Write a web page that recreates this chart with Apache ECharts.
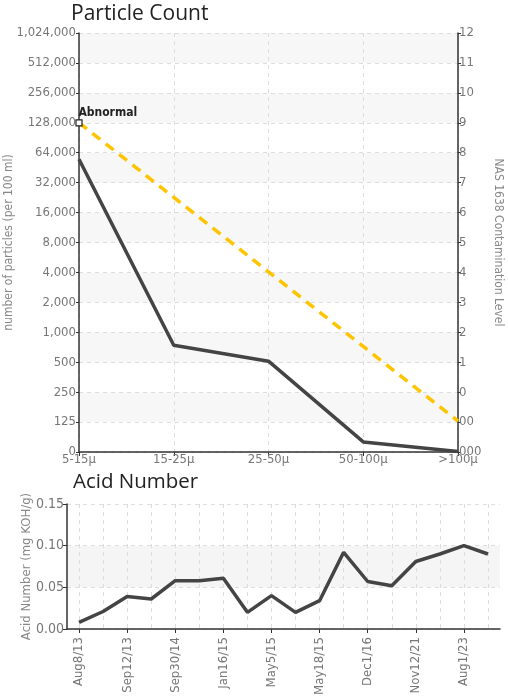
<!DOCTYPE html>
<html>
<head>
<meta charset="utf-8">
<script src="https://cdn.jsdelivr.net/npm/echarts@6/dist/echarts.min.js"></script>
<style>
html,body{margin:0;padding:0;background:#fff;}
#chart{width:508px;height:697px;}
</style>
</head>
<body>
<div id="chart"></div>
<script>
// ---- data ----
var sizeClasses = ['5-15\u03bc', '15-25\u03bc', '25-50\u03bc', '50-100\u03bc', '>100\u03bc'];
var particleCounts = [55000, 740, 512, 42, 2];
var abnormalLimit = [128000, 22800, 4050, 720, 128];
var countTicks = ['0', '125', '250', '500', '1,000', '2,000', '4,000', '8,000', '16,000', '32,000', '64,000', '128,000', '256,000', '512,000', '1,024,000'];
var nasTicks = ['000', '00', '0', '1', '2', '3', '4', '5', '6', '7', '8', '9', '10', '11', '12'];

var sampleDates = ['Aug8/13', '', 'Sep12/13', '', 'Sep30/14', '', 'Jan16/15', '', 'May5/15', '', 'May18/15', '', 'Dec1/16', '', 'Nov12/21', '', 'Aug1/23', ''];
var acidNumber = [0.008, 0.021, 0.039, 0.036, 0.058, 0.058, 0.061, 0.020, 0.040, 0.020, 0.034, 0.092, 0.057, 0.052, 0.081, 0.090, 0.100, 0.090];

// position on the doubling scale (0 -> 0, 125 -> 1, each step doubles)
function toPos(v) { return v < 125 ? v / 125 : 1 + Math.log(v / 125) / Math.LN2; }

var FONT = '"Liberation Sans Narrow", "DejaVu Sans Condensed", sans-serif';
var labelColor = '#777';
var axisColor = '#333';
var gridLine = { show: true, lineStyle: { color: '#ddd', type: [4, 4], width: 1 } };

var chart = echarts.init(document.getElementById('chart'));
chart.setOption({
  animation: false,
  backgroundColor: '#fff',
  title: [
    { text: 'Particle Count', left: 66, top: -1, textStyle: { fontFamily: '"Open Sans", sans-serif', fontSize: 21, fontWeight: 'normal', color: '#222' } },
    { text: 'Acid Number', left: 68, top: 467, textStyle: { fontFamily: '"Open Sans", sans-serif', fontSize: 20.5, fontWeight: 'normal', color: '#222' } }
  ],
  grid: [
    { left: 79, right: 50, top: 33, bottom: 245, containLabel: false, outerBoundsMode: 'none' },
    { left: 67, right: 8, top: 504, bottom: 68, containLabel: false, outerBoundsMode: 'none' }
  ],
  xAxis: [
    {
      gridIndex: 0, type: 'category', data: sizeClasses, boundaryGap: false,
      axisLine: { lineStyle: { color: axisColor, width: 1.5 } },
      axisTick: { show: true, length: 4, lineStyle: { color: axisColor } },
      axisLabel: { color: labelColor, fontFamily: FONT, fontSize: 13, margin: 1 },
      splitLine: gridLine
    },
    {
      gridIndex: 1, type: 'category', data: sampleDates, boundaryGap: true,
      axisLine: { lineStyle: { color: axisColor, width: 1.5 } },
      axisTick: { show: true, length: 4, interval: 1, alignWithLabel: true, lineStyle: { color: axisColor } },
      axisLabel: { color: labelColor, fontFamily: FONT, fontSize: 13, rotate: 90, interval: 1, margin: 8 },
      splitLine: { show: true, interval: 0, alignWithLabel: true, lineStyle: { color: '#ddd', type: [4, 4], width: 1 } }
    }
  ],
  yAxis: [
    {
      gridIndex: 0, type: 'value', min: 0, max: 14, interval: 1,
      name: 'number of particles (per 100 ml)', nameLocation: 'middle', nameGap: 64, nameRotate: 90, nameMoveOverlap: false,
      nameTextStyle: { color: '#888', fontFamily: FONT, fontSize: 12 },
      axisLine: { show: true, lineStyle: { color: axisColor, width: 1.5 } },
      axisTick: { show: true, length: 3, lineStyle: { color: axisColor } },
      axisLabel: { color: labelColor, fontFamily: FONT, fontSize: 13, margin: 3, formatter: function (v) { return countTicks[v]; } },
      splitLine: gridLine,
      splitArea: { show: true, areaStyle: { color: ['#ffffff', '#f7f7f7'] } }
    },
    {
      gridIndex: 0, type: 'value', min: 0, max: 14, interval: 1, position: 'right',
      name: 'NAS 1638 Contamination Level', nameLocation: 'middle', nameGap: 34, nameRotate: -90,
      nameTextStyle: { color: '#888', fontFamily: FONT, fontSize: 12 },
      axisLine: { show: true, lineStyle: { color: axisColor, width: 1.5 } },
      axisTick: { show: true, length: 3, lineStyle: { color: axisColor } },
      axisLabel: { color: labelColor, fontFamily: FONT, fontSize: 13, margin: 1, formatter: function (v) { return nasTicks[v]; } },
      splitLine: { show: false }
    },
    {
      gridIndex: 1, type: 'value', min: 0, max: 0.15, interval: 0.05,
      name: 'Acid Number (mg KOH/g)', nameLocation: 'middle', nameGap: 34, nameRotate: 90, nameMoveOverlap: false,
      nameTextStyle: { color: '#888', fontFamily: FONT, fontSize: 13 },
      axisLine: { show: true, lineStyle: { color: axisColor, width: 1.5 } },
      axisTick: { show: true, length: 4, lineStyle: { color: axisColor } },
      axisLabel: { color: labelColor, fontFamily: FONT, fontSize: 14, margin: 3, formatter: function (v) { return v.toFixed(2); } },
      splitLine: gridLine,
      splitArea: { show: true, areaStyle: { color: ['#ffffff', '#f5f5f5'] } }
    }
  ],
  series: [
    {
      type: 'line', xAxisIndex: 0, yAxisIndex: 0, name: 'Abnormal',
      data: abnormalLimit.map(function (v, i) {
        var p = { value: toPos(v) };
        if (i === 0) {
          p.symbol = 'rect'; p.symbolSize = 6;
          p.label = { show: true, formatter: 'Abnormal', position: [3, -12], color: '#222', fontFamily: FONT, fontSize: 12, fontWeight: 'bold' };
        }
        return p;
      }),
      symbol: 'none', showSymbol: true,
      itemStyle: { color: '#fff', borderColor: '#222', borderWidth: 1.2 },
      lineStyle: { color: '#ffc400', width: 3.5, type: [10, 7] },
      z: 3
    },
    {
      type: 'line', xAxisIndex: 0, yAxisIndex: 0, name: 'Particles',
      data: particleCounts.map(toPos),
      symbol: 'none',
      lineStyle: { color: '#444', width: 3.5 },
      z: 2
    },
    {
      type: 'line', xAxisIndex: 1, yAxisIndex: 2, name: 'Acid Number',
      data: acidNumber,
      symbol: 'none',
      lineStyle: { color: '#444', width: 3.5 }
    }
  ]
});
</script>
</body>
</html>
